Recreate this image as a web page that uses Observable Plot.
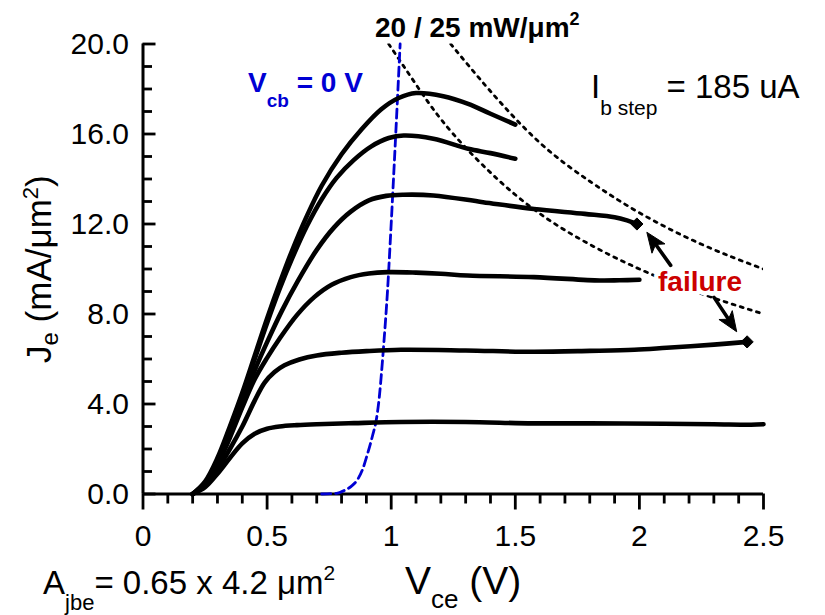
<!DOCTYPE html>
<html>
<head>
<meta charset="utf-8">
<script src="https://cdn.jsdelivr.net/npm/d3@7"></script>
<script src="https://cdn.jsdelivr.net/npm/@observablehq/plot@0.6"></script>
<style>
  html, body { margin: 0; padding: 0; background: #fff; }
  svg { display: block; }
</style>
</head>
<body>
<div id="chart"></div>
<script>
// ---------------- data ----------------
const xTicks = [0, 0.5, 1, 1.5, 2, 2.5];
const xTickLabels = ["0", "0.5", "1", "1.5", "2", "2.5"];
const xMinorTicks = [0.1, 0.2, 0.3, 0.4, 0.6, 0.7, 0.8, 0.9, 1.1, 1.2, 1.3, 1.4, 1.6, 1.7, 1.8, 1.9, 2.1, 2.2, 2.3, 2.4];
const yTicks = [0, 4, 8, 12, 16, 20];
const yTickLabels = ["0.0", "4.0", "8.0", "12.0", "16.0", "20.0"];
const yMinorTicks = [1, 2, 3, 5, 6, 7, 9, 10, 11, 13, 14, 15, 17, 18, 19];

// Je (mA/um^2) vs Vce (V), one array per base-current step: [Vce, Je]
const curveStep1 = [[0.20,0],[0.25,0.3],[0.30,0.9],[0.35,1.6],[0.40,2.25],[0.45,2.68],[0.50,2.9],[0.55,3.0],[0.62,3.06],[0.70,3.1],[0.85,3.15],[1.04,3.2],[1.3,3.2],[1.57,3.14],[1.8,3.14],[2.1,3.12],[2.3,3.1],[2.45,3.08],[2.5,3.1]];
const curveStep2 = [[0.20,0],[0.25,0.35],[0.30,1.1],[0.35,2.0],[0.40,3.0],[0.45,4.15],[0.49,4.95],[0.53,5.42],[0.57,5.72],[0.63,5.98],[0.70,6.16],[0.80,6.28],[0.90,6.35],[1.04,6.41],[1.3,6.38],[1.57,6.32],[1.8,6.36],[1.98,6.41],[2.11,6.5],[2.3,6.64],[2.434,6.76]];
const curveStep3 = [[0.20,0],[0.25,0.4],[0.30,1.3],[0.35,2.5],[0.40,3.85],[0.45,5.1],[0.50,6.05],[0.55,6.9],[0.62,7.95],[0.69,8.75],[0.76,9.3],[0.837,9.64],[0.91,9.8],[0.985,9.86],[1.1,9.84],[1.2,9.79],[1.307,9.71],[1.575,9.64],[1.84,9.49],[1.92,9.5],[2.0,9.52]];
const curveStep4 = [[0.20,0],[0.25,0.45],[0.30,1.4],[0.35,2.7],[0.40,4.1],[0.45,5.5],[0.50,6.75],[0.56,8.15],[0.623,9.45],[0.70,10.85],[0.77,11.85],[0.837,12.55],[0.91,13.05],[0.98,13.25],[1.05,13.3],[1.17,13.27],[1.37,12.97],[1.575,12.67],[1.78,12.45],[1.90,12.3],[1.95,12.16],[1.99,12.0]];
const curveStep5 = [[0.20,0],[0.25,0.5],[0.30,1.5],[0.35,2.9],[0.40,4.4],[0.45,6.0],[0.50,7.6],[0.55,9.1],[0.60,10.45],[0.66,11.9],[0.72,13.1],[0.78,14.05],[0.85,14.85],[0.92,15.45],[0.99,15.82],[1.05,15.93],[1.17,15.79],[1.31,15.34],[1.40,15.15],[1.50,14.9]];
const curveStep6 = [[0.20,0],[0.25,0.55],[0.30,1.6],[0.35,3.0],[0.40,4.5],[0.45,6.15],[0.50,7.8],[0.55,9.35],[0.60,10.8],[0.66,12.35],[0.72,13.7],[0.80,15.1],[0.88,16.2],[0.96,17.1],[1.03,17.6],[1.10,17.82],[1.21,17.68],[1.31,17.34],[1.40,16.9],[1.50,16.42]];

// constant dissipated power lines: [Vce, Je]
const power20 = [[0.99,20.0],[1.1,18.2],[1.25,16.0],[1.5,13.3],[1.75,11.4],[2.0,10.0],[2.25,8.9],[2.5,8.0]];
const power25 = [[1.24,20.0],[1.4,17.9],[1.6,15.6],[1.8,13.9],[2.0,12.5],[2.25,11.1],[2.5,10.0]];

// Vcb = 0 V locus: [Vce, Je]
const vcbZero = [[0.72,0],[0.78,0.03],[0.81,0.15],[0.84,0.35],[0.865,0.65],[0.885,1.1],[0.905,1.8],[0.925,2.6],[0.94,3.3],[0.952,4.3],[0.961,5.4],[0.971,6.8],[0.985,9.0],[0.998,11.6],[1.012,14.6],[1.025,17.5],[1.036,20.0]];

// failure points and arrows
const failurePoints = [[1.99,12.0],[2.434,6.76]];
const failureArrowTails = [[2.126,10.16],[2.30,8.75]];
const failureArrowTips = [[2.032,11.61],[2.394,7.19]];

// ---------------- build tables ----------------
const curves = [curveStep1, curveStep2, curveStep3, curveStep4, curveStep5, curveStep6];
const curveRows = curves.flatMap((c, k) => c.map(([V, J]) => ({V, J, s: k})));
const powerRows = [power20, power25].flatMap((c, k) => c.map(([V, J]) => ({V, J, s: k})));
const vcbRows = vcbZero.map(([V, J]) => ({V, J}));
const failRows = failurePoints.map(([V, J]) => ({V, J}));
const arrowRows = failureArrowTails.map(([x1, y1], i) => ({x1, y1, x2: failureArrowTips[i][0], y2: failureArrowTips[i][1]}));

// ---------------- layout ----------------
const W = 825, H = 615;
const mL = 142.5, mR = 62, mT = 43.5, mB = 121.5;
const frameW = W - mL - mR, frameH = H - mT - mB;
const FONT = "'Liberation Sans', Arial, Helvetica, sans-serif";
const BLUE = "#0000d4", RED = "#cc0000";

const plot = Plot.plot({
  width: W, height: H,
  marginLeft: mL, marginRight: mR, marginTop: mT, marginBottom: mB,
  x: {domain: [0, 2.5]},
  y: {domain: [0, 20]},
  style: {fontFamily: FONT, color: "black", background: "white", overflow: "visible"},
  marks: [
    Plot.axisX(xTicks, {tickSize: 0, tickPadding: 31, fontSize: 30, label: null,
      tickFormat: d => xTickLabels[xTicks.indexOf(d)]}),
    Plot.axisY(yTicks, {tickSize: 0, tickPadding: 14, fontSize: 30, label: null,
      tickFormat: d => yTickLabels[yTicks.indexOf(d)]}),
    Plot.tickX(xTicks, {x: d => d, insetTop: frameH - 16, dy: 16, strokeWidth: 2.8}),
    Plot.tickX(xMinorTicks, {x: d => d, insetTop: frameH - 10, dy: 10, strokeWidth: 2.8}),
    Plot.tickY(yTicks, {y: d => d, insetRight: frameW - 13, strokeWidth: 2.8}),
    Plot.tickY(yMinorTicks, {y: d => d, insetRight: frameW - 9.5, strokeWidth: 2.8}),
    Plot.ruleY([0], {strokeWidth: 3}),
    Plot.ruleX([0], {strokeWidth: 3}),
    Plot.line(powerRows, {x: "V", y: "J", z: "s", curve: "natural", stroke: "black",
      strokeWidth: 2.8, strokeDasharray: "3,5.5", clip: true}),
    Plot.line(vcbRows, {x: "V", y: "J", curve: "monotone-x", stroke: BLUE,
      strokeWidth: 2.8, strokeDasharray: "9,5"}),
    Plot.line(curveRows, {x: "V", y: "J", z: "s", curve: "catmull-rom", stroke: "black",
      strokeWidth: 4.6, strokeLinejoin: "round"}),
    Plot.dot(failRows, {x: "V", y: "J", symbol: "diamond2", r: 5.5, fill: "black", stroke: "black", strokeWidth: 1}),
    Plot.arrow(arrowRows, {x1: "x1", y1: "y1", x2: "x2", y2: "y2", headLength: 0,
      insetEnd: 12, strokeWidth: 3.6, stroke: "black"})
  ]
});

document.getElementById("chart").appendChild(plot);

// ---------------- arrowheads (filled, positioned from the plot's scales) ----------------
const sx = plot.scale("x"), sy = plot.scale("y");
const svg = d3.select(plot);
arrowRows.forEach(a => {
  const px1 = sx.apply(a.x1), py1 = sy.apply(a.y1);
  const px2 = sx.apply(a.x2), py2 = sy.apply(a.y2);
  const dx = px2 - px1, dy = py2 - py1, len = Math.hypot(dx, dy);
  const ux = dx / len, uy = dy / len;
  const L = 20, Wd = 16;
  const bx = px2 - ux * L, by = py2 - uy * L;
  const nx = -uy, ny = ux;
  svg.append("path")
    .attr("d", `M${px2},${py2}L${bx + nx * Wd / 2},${by + ny * Wd / 2}L${bx + ux * 5},${by + uy * 5}L${bx - nx * Wd / 2},${by - ny * Wd / 2}Z`)
    .attr("fill", "black")
    .attr("stroke", "black")
    .attr("stroke-width", 1)
    .attr("stroke-linejoin", "miter");
});

// ---------------- rich text annotations ----------------
function rich(x, y, parts, opts = {}) {
  const t = svg.append("text")
    .attr("x", x).attr("y", y)
    .attr("font-family", FONT)
    .attr("fill", opts.fill || "black")
    .attr("font-weight", opts.bold ? "bold" : "normal")
    .attr("text-anchor", opts.anchor || "start")
    .style("white-space", "pre");
  if (opts.halo) t.attr("stroke", "white").attr("stroke-width", opts.halo).attr("stroke-linejoin", "round").attr("paint-order", "stroke");
  if (opts.transform) t.attr("transform", opts.transform).attr("x", 0).attr("y", 0);
  parts.forEach(p => {
    t.append("tspan").attr("font-size", p.size).attr("dy", p.dy || 0).text(p.text);
  });
  return t;
}

rich(375, 37, [
  {text: "20 / 25 mW/\u03bcm", size: 28},
  {text: "2", size: 18, dy: -12}
], {bold: true});

rich(248, 92, [
  {text: "V", size: 28},
  {text: "cb", size: 19, dy: 15},
  {text: " = 0 V", size: 28, dy: -15}
], {bold: true, fill: BLUE});

rich(591, 98, [
  {text: "I", size: 33},
  {text: "b step", size: 21, dy: 17},
  {text: " = 185 uA", size: 33, dy: -17}
]);

rich(700, 291, [{text: "failure", size: 28}], {bold: true, fill: RED, anchor: "middle", halo: 9});

rich(43, 594, [
  {text: "A", size: 33},
  {text: "jbe", size: 22, dy: 16},
  {text: "= 0.65 x 4.2 \u03bcm", size: 33, dy: -16},
  {text: "2", size: 21, dy: -14}
]);

rich(405, 594, [
  {text: "V", size: 39},
  {text: "ce", size: 26, dy: 14},
  {text: " (V)", size: 39, dy: -14}
]);

rich(0, 0, [
  {text: "J", size: 35},
  {text: "e", size: 24, dy: 7},
  {text: " (mA/\u03bcm", size: 35, dy: -7},
  {text: "2", size: 22, dy: -13},
  {text: ")", size: 35, dy: 13}
], {transform: "translate(51,363) rotate(-90)"});
</script>
</body>
</html>
